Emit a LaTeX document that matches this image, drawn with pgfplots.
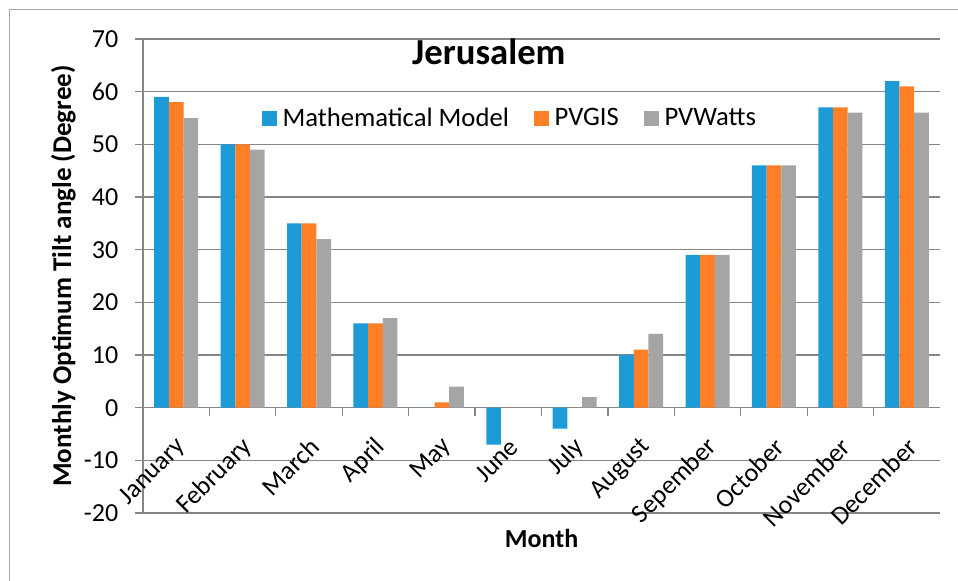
\documentclass[border=0pt]{standalone}
\usepackage{fontspec}
\setmainfont{Carlito}
\usepackage{pgfplots}
\usepackage{pgfplotstable}
\pgfplotsset{compat=1.18}

\definecolor{cblue}{RGB}{29,155,215}
\definecolor{corange}{RGB}{255,127,39}
\definecolor{cgray}{RGB}{165,165,165}
\definecolor{axgray}{RGB}{134,134,134}
\definecolor{framegray}{RGB}{165,165,165}

% monthly optimum tilt angle (degree)
\pgfplotstableread{
x mm pvgis pvwatts
0 59 58 55
1 50 50 49
2 35 35 32
3 16 16 17
4 0 1 4
5 -7 0 0
6 -4 0 2
7 10 11 14
8 29 29 29
9 46 46 46
10 57 57 56
11 62 61 56
}\tiltdata

\begin{document}
\begin{tikzpicture}
\useasboundingbox (0,0) rectangle (718.5pt,435.75pt);
\draw[framegray, line width=0.75pt] (6.75pt,0) -- (6.75pt,428.25pt) -- (718.5pt,428.25pt);
\begin{axis}[
    at={(107.25pt,51pt)}, anchor=south west,
    scale only axis, width=597.75pt, height=355.5pt,
    ybar=0pt, bar width=11pt,
    xmin=-0.5, xmax=11.5, ymin=-20, ymax=70,
    axis y line*=left, axis x line*=middle,
    hide obscured x ticks=false, hide obscured y ticks=false,
    axis line style={axgray, line width=0.9pt},
    ytick={-20,-10,...,70},
    ymajorgrids, major grid style={axgray, line width=0.9pt},
    tick align=outside, major tick length=6pt, minor tick length=6pt,
    tick style={axgray, line width=0.9pt},
    xtick={0,...,11},
    every major x tick/.append style={draw=none},
    minor xtick={0.5,1.5,...,10.5},
    xticklabels={January,February,March,April,May,June,July,August,Sepember,October,November,December},
    xticklabel style={rotate=45, anchor=east, xshift=-8pt, yshift=-17.5pt},
    yticklabel style={xshift=-9pt},
    /pgf/number format/assume math mode=true,
    tick label style={font=\fontsize{19.5}{23}\selectfont, black},
    ylabel={Monthly Optimum Tilt angle (Degree)},
    ylabel style={at={(axis description cs:-0.1,0.5)}, anchor=center, rotate=0,
        font=\fontsize{20.3}{24}\selectfont\bfseries},
    xlabel={Month},
    xlabel style={at={(axis description cs:0.5,-0.053)}, anchor=center,
        font=\fontsize{19.5}{23}\selectfont\bfseries},
    title={Jerusalem},
    title style={at={(axis description cs:0.434,0.93)}, anchor=base,
        font=\fontsize{27.5}{32}\selectfont\bfseries},
    legend style={at={(axis description cs:0.461,0.833)}, anchor=center,
        draw=none, fill=none, legend columns=3,
        font=\fontsize{20}{24}\selectfont,
        /tikz/every even column/.append style={column sep=17pt},
        /tikz/every odd column/.append style={column sep=2pt}},
    legend image code/.code={\draw[#1, draw=none] (0pt,-5.6pt) rectangle (11.25pt,5.6pt);},
]
\addplot[fill=cblue, draw=none] table[x=x, y=mm] {\tiltdata};
\addplot[fill=corange, draw=none] table[x=x, y=pvgis] {\tiltdata};
\addplot[fill=cgray, draw=none] table[x=x, y=pvwatts] {\tiltdata};
\legend{Mathematical Model, PVGIS, PVWatts}
\end{axis}
\end{tikzpicture}
\end{document}
